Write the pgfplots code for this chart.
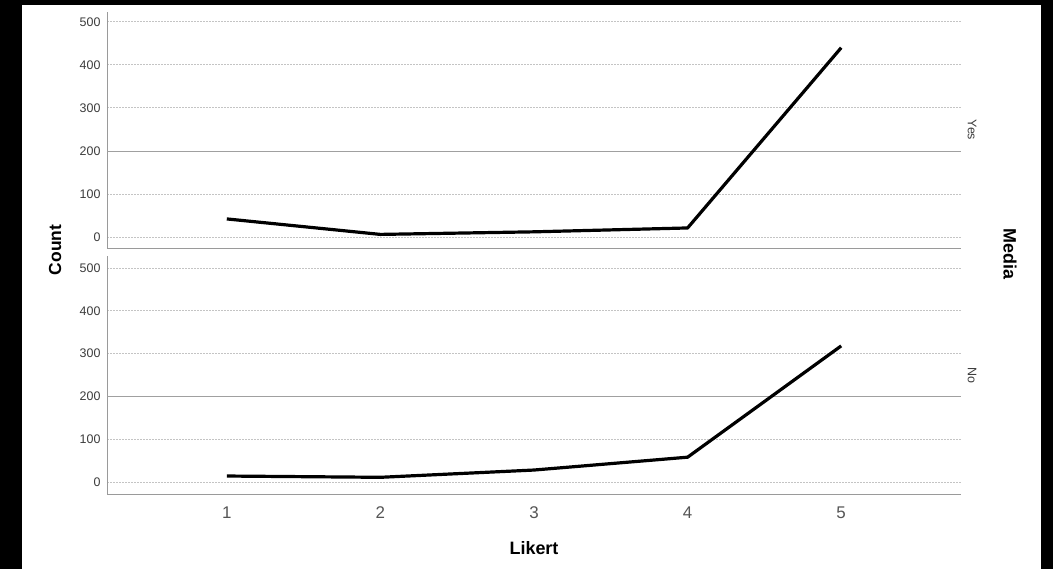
\documentclass[border=0pt]{standalone}
\usepackage{pgfplots}
\pgfplotsset{compat=1.18}
\usepackage{fontspec}
\setmainfont{Liberation Sans}
\definecolor{gridc}{HTML}{C4C4C4}
\definecolor{gridd}{HTML}{A0A0A0}
\definecolor{axc}{HTML}{9A9A9A}
\definecolor{tickc}{HTML}{3C3C3C}
\definecolor{xtickc}{HTML}{555555}
\pgfplotsset{
  panel/.style={
    scale only axis,
    width=854bp,
    xmin=0.22, xmax=5.78,
    axis x line*=bottom, axis y line*=left,
    axis line style={axc, line width=0.9bp, -},
    major tick length=0pt,
    ytick={0,100,...,500},
    extra y ticks={200},
    extra y tick labels={},
    extra y tick style={grid=major, major grid style={gridd, line width=0.9bp, solid}},
    ymajorgrids,
    major grid style={gridc, line width=0.9bp, dash pattern=on 2bp off 1bp},
    /pgf/number format/assume math mode=true,
    yticklabel style={font=\fontsize{12.5}{12.5}\selectfont, text=tickc, xshift=-3bp},
    xtick={1,2,3,4,5},
    clip=false,
  },
}
\begin{document}
\begin{tikzpicture}
\useasboundingbox (0,0) rectangle (1053bp,-569bp);
\fill[black] (0,0) rectangle (1053bp,-569bp);
\fill[white] (22bp,-5bp) rectangle (1041bp,-569bp);

% Top panel: Yes
\begin{axis}[panel,
  at={(107bp,-248bp)}, anchor=south west,
  height=236bp,
  ymin=-25.6, ymax=523,
  xticklabels={},
]
\addplot[black, line width=3.2bp, line join=round] coordinates {
(1,42) (2,6) (3,12) (4,21) (5,440)
};
\end{axis}

% Bottom panel: No
\begin{axis}[panel,
  at={(107bp,-494bp)}, anchor=south west,
  height=238bp,
  ymin=-28, ymax=528,
  xticklabel style={font=\fontsize{17}{17}\selectfont, text=xtickc, yshift=-9.5bp},
]
\addplot[black, line width=3.2bp, line join=round] coordinates {
(1,14) (2,11) (3,28) (4,58) (5,318)
};
\end{axis}

\node[font=\bfseries\fontsize{17.5}{17.5}\selectfont, rotate=90] at (55bp,-250bp) {Count};
\node[font=\bfseries\fontsize{18}{18}\selectfont] at (534bp,-548bp) {Likert};
\node[font=\bfseries\fontsize{18}{18}\selectfont, rotate=-90] at (1010bp,-254bp) {Media};
\node[font=\fontsize{12.5}{12.5}\selectfont, text=tickc, rotate=-90] at (972bp,-130bp) {Yes};
\node[font=\fontsize{12.5}{12.5}\selectfont, text=tickc, rotate=-90] at (972bp,-375bp) {No};
\end{tikzpicture}
\end{document}
